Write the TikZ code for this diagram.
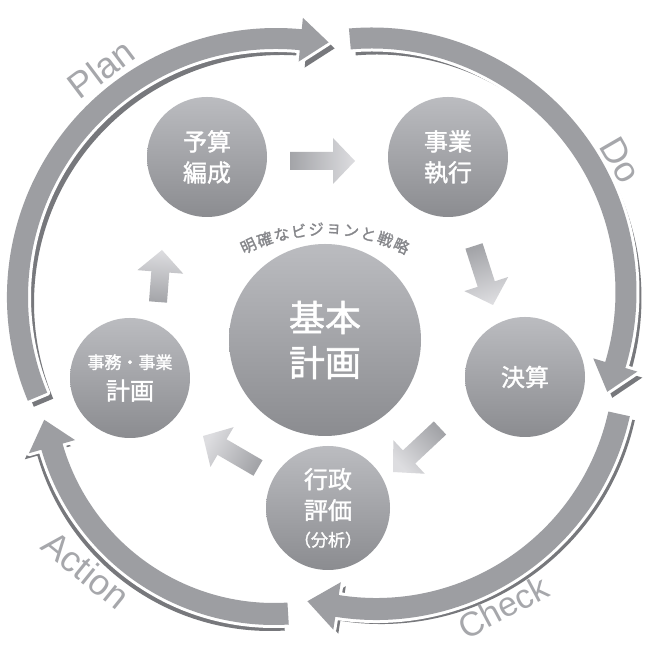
\documentclass[tikz,border=0pt]{standalone}
\usepackage{fontspec}
\setmainfont{Liberation Sans}
\newfontfamily\jp{Noto Sans CJK JP}[FakeBold=1.5]
\usetikzlibrary{calc}
\definecolor{band}{HTML}{9D9EA2}
\definecolor{bandshadow}{HTML}{77787C}
\definecolor{lbl}{HTML}{A6A7AB}
\definecolor{ctop}{HTML}{BBBCC0}
\definecolor{cbot}{HTML}{8B8C90}
\definecolor{atail}{HTML}{A3A4A8}
\definecolor{ahead}{HTML}{DDDDE0}
\definecolor{vtext}{HTML}{86878B}
% curved block segment: cx cy Rm w hw tail base headlen style
\newcommand{\seg}[9]{\path[#9] ($(#1,#2)+(#6:#3+#4)$) arc[start angle=#6, end angle=#7, radius=#3+#4] -- ($(#1,#2)+(#7:#3+#5)$) -- ($(#1,#2)+(#7:#3)+(#7-90:#8)$) -- ($(#1,#2)+(#7:#3-#5)$) -- ($(#1,#2)+(#7:#3-#4)$) arc[start angle=#7, end angle=#6, radius=#3-#4] -- cycle;}
% straight block arrow: tail, tip, shading angle
\newcommand{\blockarr}[3]{%
  \coordinate (#1hb) at ($(#2)!22pt!(#1)$);
  \shade[top color=ahead, bottom color=atail, shading angle=#3]
   ($(#1)!9pt!90:(#2)$) -- ($(#1hb)!9pt!90:(#2)$) -- ($(#1hb)!23pt!90:(#2)$) -- (#2)
   -- ($(#1hb)!23pt!-90:(#2)$) -- ($(#1hb)!9pt!-90:(#2)$) -- ($(#1)!9pt!-90:(#2)$) -- cycle;}
\tikzset{
  circ/.style={circle, minimum size=120pt, inner sep=0pt, top color=ctop, bottom color=cbot,
    text=white, align=center, font=\jp\fontsize{24}{31}\selectfont},
  lblstyle/.style={text=lbl, inner sep=0pt, font=\fontsize{36}{36}\selectfont},
  halo/.style={draw=white, line width=6pt, line join=round},
}
\begin{document}
\begin{tikzpicture}[x=1pt,y=1pt]
\fill[white] (0,0) rectangle (651,650);
\useasboundingbox (0,0) rectangle (651,650);
% Plan
\seg{282}{347}{258.5}{10.5}{22}{202.7}{84.5}{28}{fill=bandshadow}
\seg{276}{353}{258.5}{10.5}{22}{202.7}{84.5}{28}{halo}
\seg{276}{353}{258.5}{10.5}{22}{202.7}{84.5}{28}{fill=band}
% Do
\seg{377}{352}{254}{10.5}{23}{95}{-16.7}{28}{fill=bandshadow}
\seg{372}{358}{254}{10.5}{23}{95}{-16.7}{28}{halo}
\seg{372}{358}{254}{10.5}{23}{95}{-16.7}{28}{fill=band}
% Check
\seg{381}{286}{249}{11}{24}{-12.5}{-99}{30}{fill=bandshadow}
\seg{376}{290}{249}{11}{24}{-12.5}{-99}{30}{halo}
\seg{376}{290}{249}{11}{24}{-12.5}{-99}{30}{fill=band}
% Action
\seg{270}{261}{231}{11}{24}{-86.5}{-164}{28}{fill=bandshadow}
\seg{274}{267}{231}{11}{24}{-86.5}{-164}{28}{halo}
\seg{274}{267}{231}{11}{24}{-86.5}{-164}{28}{fill=band}
% labels
\node[lblstyle, rotate=37] (plan) at (101,581) {Plan};
\node[lblstyle, rotate=-60] (do) at (621,490) {Do};
\node[lblstyle, rotate=28, font=\fontsize{34}{34}\selectfont] (check) at (503,43) {Check};
\node[lblstyle, rotate=-39] (action) at (86,80) {Action};
% circles
\node[circ] (yosan) at (207,493) {予算\\編成};
\node[circ] (shikko) at (448,493) {事業\\執行};
\node[circ] (kessan) at (525,273) {決算};
\node[circ, minimum size=124pt] (hyoka) at (328,142) {行政\\評価\\[-4pt]{\fontsize{17}{20}\selectfont （分析）}};
\node[circ] (jimu) at (130,272) {{\fontsize{17}{20}\selectfont 事務・事業}\\計画};
\node[circ, minimum size=192pt, font=\jp\fontsize{36}{45}\selectfont] (kihon) at (325,310) {基本\\計画};
% curved caption
\foreach \c [count=\i from 0] in {明,確,な,ビ,ジ,ョ,ン,と,戦,略} {
  \pgfmathsetmacro\ang{115-\i*50/9}
  \node[font=\jp\fontsize{15.5}{15.5}\selectfont, text=vtext, rotate=\ang-90, inner sep=0pt] (v\i) at ($(325,240)+(\ang:181)$) {\c};
}
% block arrows
\coordinate (a1s) at (290,489); \coordinate (a1e) at (355,489);
\coordinate (a2s) at (474,404); \coordinate (a2e) at (493,345);
\coordinate (a3s) at (440,222); \coordinate (a3e) at (393,178);
\coordinate (a4s) at (258,182); \coordinate (a4e) at (203,214);
\coordinate (a5s) at (158,348); \coordinate (a5e) at (162,400);
\blockarr{a1s}{a1e}{-90}
\blockarr{a2s}{a2e}{-162.2}
\blockarr{a3s}{a3e}{133.1}
\blockarr{a4s}{a4e}{59.8}
\blockarr{a5s}{a5e}{-4.4}
\end{tikzpicture}
\end{document}
